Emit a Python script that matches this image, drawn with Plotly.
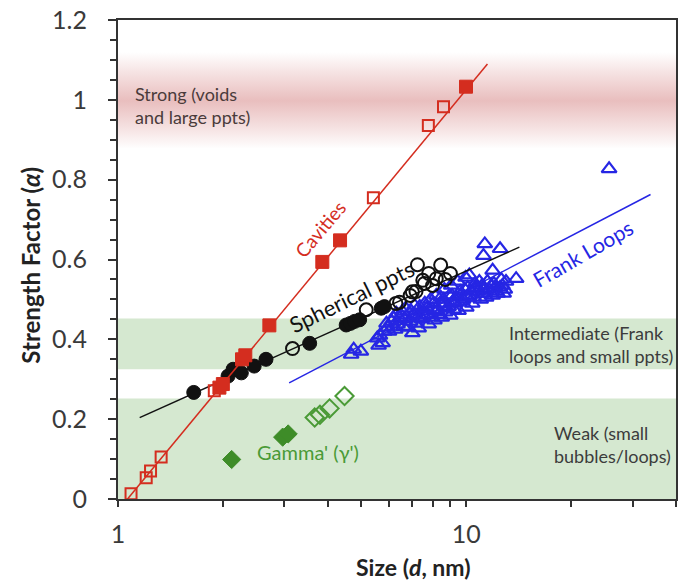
import plotly.graph_objects as go

# ---- Strength-factor regimes (alpha ranges) ----
weak_band = [0.0, 0.252]
intermediate_band = [0.325, 0.452]
strong_band = [0.88, 1.0, 1.12]   # lower edge, centre, upper edge of the shaded strong regime

# ---- Cavities (red squares) ----
cav_open_d = [1.09, 1.205, 1.24, 1.33, 1.89, 5.41, 7.78, 8.6]
cav_open_a = [0.013, 0.053, 0.07, 0.105, 0.271, 0.755, 0.936, 0.983]
cav_fill_d = [1.955, 2.0, 2.27, 2.32, 2.72, 3.86, 4.34, 9.98]
cav_fill_a = [0.279, 0.288, 0.35, 0.36, 0.435, 0.594, 0.648, 1.033]
cav_fit_d = [1.065, 11.5]
cav_fit_a = [0.0, 1.09]

# ---- Spherical precipitates (black circles) ----
sph_fill_d = [1.65, 2.07, 2.14, 2.26, 2.46, 2.66, 3.55, 4.52, 4.65, 4.78, 4.94, 5.7, 5.82]
sph_fill_a = [0.267, 0.308, 0.325, 0.316, 0.333, 0.35, 0.39, 0.436, 0.44, 0.445, 0.449, 0.478, 0.482]
sph_open_d = [3.17, 5.16, 6.28, 6.43, 6.9, 7.0, 7.17, 7.5, 7.58, 7.8, 8.0, 8.2, 8.7, 9.0, 7.24, 8.44]
sph_open_a = [0.377, 0.474, 0.49, 0.493, 0.51, 0.519, 0.52, 0.548, 0.54, 0.565, 0.535, 0.552, 0.55, 0.565, 0.587, 0.586]
sph_fit_d = [1.154, 14.2]
sph_fit_a = [0.204, 0.631]

# ---- Frank loops (blue triangles) ----
frank_d = [4.67, 4.98, 4.75, 5.6, 5.75, 5.55, 5.82, 6.0, 5.9, 6.2, 6.43, 6.7, 6.5, 7.0, 6.8, 7.2,
           6.6, 6.65, 7.05, 7.1, 7.3, 7.45, 7.4, 7.6, 7.8, 7.75, 7.9, 8.1, 8.25, 8.2, 8.4, 8.5,
           8.6, 8.7, 8.65, 8.9, 9.0, 9.1, 9.05, 9.3, 9.5, 9.6, 9.45, 9.8, 10.0, 10.1, 9.95,
           10.2, 10.4, 10.6, 10.5, 10.8, 11.0, 11.1, 11.3, 11.5, 11.6, 11.9, 12.0, 12.2, 12.5,
           12.6, 12.8, 13.0, 11.3, 12.5, 11.2, 13.9, 11.9, 10.2, 10.6, 25.7,
           5.65, 5.95, 6.1, 6.3, 6.35, 6.55, 6.9, 6.95, 7.25, 7.35, 7.55, 7.7, 7.95, 8.05,
           8.3, 8.45, 8.8, 8.95, 9.2, 9.35, 9.7, 9.9, 10.3, 10.7, 10.9, 11.2, 11.4, 11.8,
           12.1, 12.3, 12.7, 12.9, 8.0, 8.55, 9.15, 9.6, 10.05, 11.05, 6.25, 7.15]
frank_a = [0.362, 0.37, 0.375, 0.385, 0.391, 0.403, 0.42, 0.42, 0.44, 0.453, 0.453, 0.478, 0.46, 0.416, 0.43, 0.44,
           0.432, 0.452, 0.462, 0.485, 0.428, 0.452, 0.47, 0.49, 0.438, 0.462, 0.5, 0.448, 0.472, 0.51, 0.49, 0.455,
           0.5, 0.468, 0.525, 0.482, 0.46, 0.51, 0.535, 0.49, 0.472, 0.52, 0.545, 0.5, 0.48, 0.53, 0.555,
           0.51, 0.49, 0.54, 0.505, 0.52, 0.5, 0.535, 0.515, 0.545, 0.525, 0.51, 0.54, 0.52, 0.53,
           0.55, 0.515, 0.545, 0.639, 0.627, 0.61, 0.552, 0.573, 0.561, 0.527, 0.827,
           0.41, 0.43, 0.445, 0.465, 0.438, 0.47, 0.445, 0.47, 0.455, 0.482, 0.462, 0.478, 0.455, 0.49,
           0.462, 0.505, 0.478, 0.51, 0.475, 0.505, 0.495, 0.525, 0.52, 0.53, 0.545, 0.525, 0.505, 0.535,
           0.53, 0.515, 0.535, 0.525, 0.475, 0.488, 0.495, 0.51, 0.505, 0.515, 0.425, 0.46]
frank_fit_d = [3.1, 33.8]
frank_fit_a = [0.291, 0.763]

# ---- Gamma' precipitates (green diamonds) ----
gam_fill_d = [2.12, 2.97, 3.08]
gam_fill_a = [0.099, 0.155, 0.163]
gam_open_d = [3.67, 3.8, 4.05, 4.47]
gam_open_a = [0.204, 0.211, 0.227, 0.258]

RED = "#d42d1f"
BLACK = "#111111"
BLUE = "#2626e4"
GREEN = "#3e8c28"
GREEN_OPEN = "#4a9a36"
BAND_GREEN = "#d5e8d0"
FONT = "Lato, 'Open Sans', sans-serif"

X_MIN, X_MAX = 1, 40

fig = go.Figure()

# Strong regime: soft pink band fading out at both edges
fig.add_trace(go.Scatter(
    x=[X_MIN, X_MAX, X_MAX, X_MIN, X_MIN],
    y=[strong_band[0], strong_band[0], strong_band[2], strong_band[2], strong_band[0]],
    mode="none", fill="toself", hoverinfo="skip", showlegend=False,
    fillgradient=dict(
        type="vertical", start=strong_band[0], stop=strong_band[2],
        colorscale=[[0.0, "rgb(255,255,255)"], [0.2, "rgb(246,228,228)"],
                    [0.5, "rgb(233,190,190)"], [0.8, "rgb(246,228,228)"],
                    [1.0, "rgb(255,255,255)"]],
    ),
))

def line(xs, ys, color, width=1.5):
    fig.add_trace(go.Scatter(x=xs, y=ys, mode="lines", showlegend=False,
                             line=dict(color=color, width=width)))

def pts(xs, ys, symbol, color, size, lw=2):
    fig.add_trace(go.Scatter(
        x=xs, y=ys, mode="markers", showlegend=False,
        marker=dict(symbol=symbol, size=size, color=color,
                    line=dict(color=color, width=lw)),
    ))

# Frank loops
line(frank_fit_d, frank_fit_a, BLUE)
pts(frank_d, frank_a, "triangle-up-open", BLUE, 13, lw=2.2)

# Spherical precipitates
line(sph_fit_d, sph_fit_a, BLACK)
pts(sph_open_d, sph_open_a, "circle-open", BLACK, 13)
pts(sph_fill_d, sph_fill_a, "circle", BLACK, 14, lw=1)

# Cavities
line(cav_fit_d, cav_fit_a, RED)
pts(cav_open_d, cav_open_a, "square-open", RED, 11)
pts(cav_fill_d, cav_fill_a, "square", RED, 13, lw=1)

# Gamma'
pts(gam_open_d, gam_open_a, "diamond-open", GREEN_OPEN, 14)
pts(gam_fill_d, gam_fill_a, "diamond", GREEN, 14, lw=1)

shapes = [
    dict(type="rect", xref="paper", x0=0, x1=1, yref="y", y0=weak_band[0], y1=weak_band[1],
         fillcolor=BAND_GREEN, line_width=0, layer="below"),
    dict(type="rect", xref="paper", x0=0, x1=1, yref="y",
         y0=intermediate_band[0], y1=intermediate_band[1],
         fillcolor=BAND_GREEN, line_width=0, layer="below"),
]

band_text = "#3c3c3c"
annotations = [
    dict(x=0.027, y=0.985, xref="paper", yref="y", xanchor="left", align="left",
         text="Strong (voids<br>and large ppts)", showarrow=False,
         font=dict(family=FONT, size=18, color="#4a3b3b")),
    dict(x=0.698, y=0.386, xref="paper", yref="y", xanchor="left", align="left",
         text="Intermediate (Frank<br>loops and small ppts)", showarrow=False,
         font=dict(family=FONT, size=18, color=band_text)),
    dict(x=0.778, y=0.137, xref="paper", yref="y", xanchor="left", align="left",
         text="Weak (small<br>bubbles/loops)", showarrow=False,
         font=dict(family=FONT, size=18, color=band_text)),
    dict(x=0.5786, y=0.676, text="Cavities", textangle=-50, showarrow=False,
         font=dict(family=FONT, size=19, color=RED)),
    dict(x=0.6712, y=0.507, text="Spherical ppts", textangle=-26, showarrow=False,
         font=dict(family=FONT, size=22, color=BLACK)),
    dict(x=1.3324, y=0.616, text="Frank Loops", textangle=-30, showarrow=False,
         font=dict(family=FONT, size=21, color=BLUE)),
    dict(x=0.5453, y=0.118, text="Gamma' (γ')", showarrow=False,
         font=dict(family=FONT, size=20, color=GREEN_OPEN)),
    # axis titles
    dict(x=-0.157, y=0.488, xref="paper", yref="paper", xanchor="center", yanchor="middle",
         textangle=-90, showarrow=False,
         text="<b>Strength Factor (<i>α</i>)</b>", font=dict(family=FONT, size=24, color="#222")),
    dict(x=0.530, y=-0.142, xref="paper", yref="paper", xanchor="center", yanchor="middle",
         showarrow=False,
         text="<b>Size (<i>d</i>, nm)</b>", font=dict(family=FONT, size=23, color="#222")),
]

x_ticks = [1, 2, 3, 4, 5, 6, 7, 8, 9, 10, 20, 30, 40]
x_labels = ["1", "", "", "", "", "", "", "", "", "10", "", "", ""]
y_ticks = [0, 0.2, 0.4, 0.6, 0.8, 1.0, 1.2]
y_labels = ["0", "0.2", "0.4", "0.6", "0.8", "1", "1.2"]

fig.update_layout(
    width=682, height=581,
    margin=dict(l=118, r=4, t=15, b=82),
    paper_bgcolor="white", plot_bgcolor="white",
    font=dict(family=FONT, size=25, color="#3a3a3a"),
    shapes=shapes, annotations=annotations,
    xaxis=dict(type="log", range=[0, 1.602], tickvals=x_ticks, ticktext=x_labels,
               ticks="outside", ticklen=6, tickwidth=1.5, tickcolor="#333",
               ticklabelstandoff=6, ticklabeloverflow="allow",
               showline=True, linecolor="#333", linewidth=2, mirror=True,
               showgrid=False, zeroline=False),
    yaxis=dict(range=[0, 1.2001], tickvals=y_ticks, ticktext=y_labels,
               ticks="outside", ticklen=8, tickwidth=1.5, tickcolor="#333",
               ticklabelstandoff=16, ticklabeloverflow="allow",
               minor=dict(dtick=0.05, ticks="outside", ticklen=6, tickwidth=1.5, tickcolor="#333"),
               showline=True, linecolor="#333", linewidth=2, mirror=True,
               showgrid=False, zeroline=False),
)

fig.write_html("out.html")
